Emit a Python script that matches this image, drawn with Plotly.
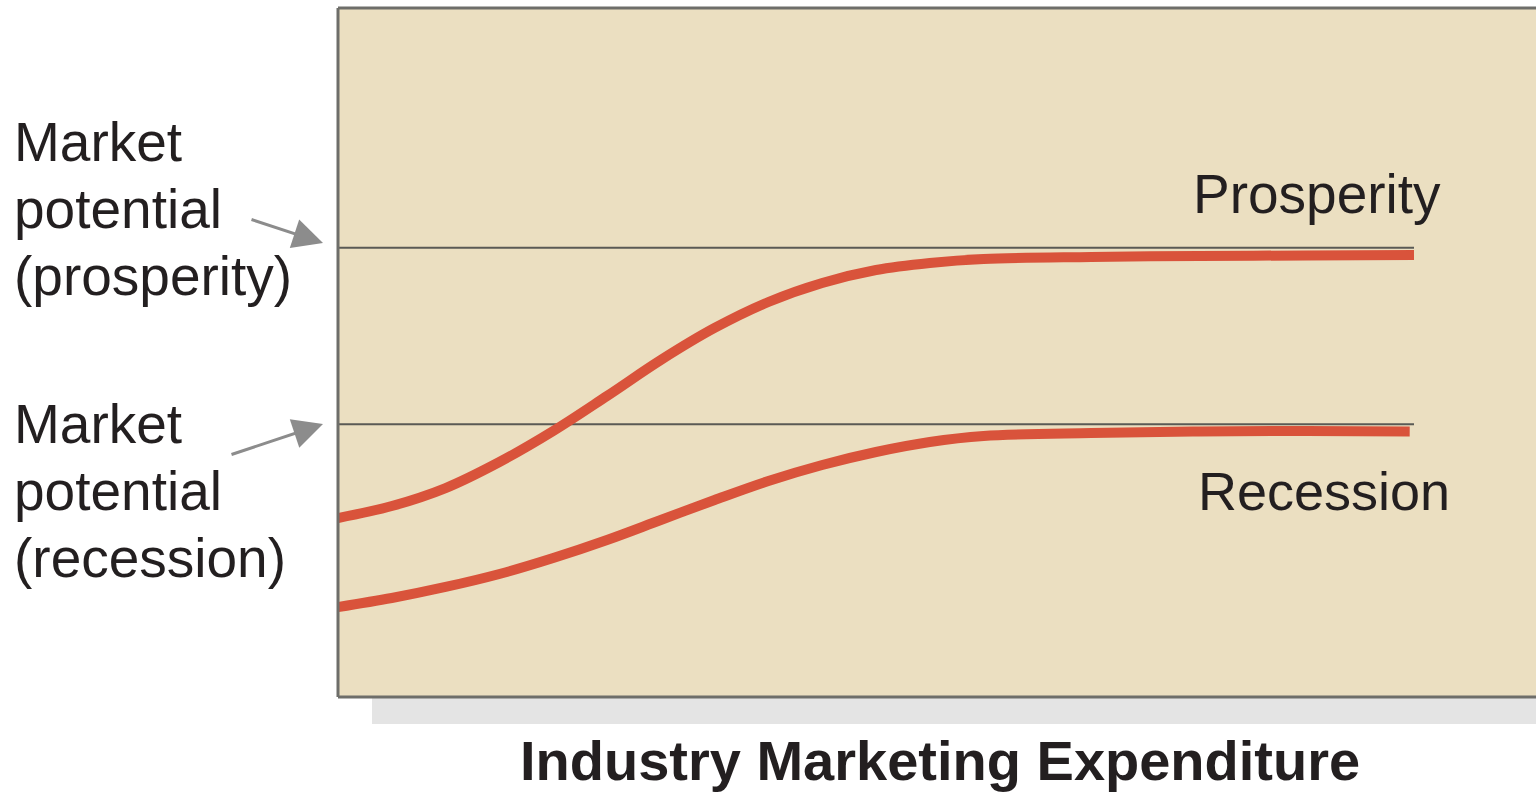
import plotly.graph_objects as go

# Industry marketing expenditure (relative units, 0-100 where curves end)
expenditure = [0, 5, 10, 15, 20, 25, 30, 35, 40, 45, 50, 55, 60, 70, 80, 90, 100]
# Market demand (relative units)
prosperity_demand = [25.98, 27.72, 30.33, 34.11, 38.61, 43.69, 48.91, 53.56, 57.33, 60.09,
                     61.97, 62.99, 63.57, 63.86, 64.01, 64.08, 64.15]
recession_demand = [13.06, 14.37, 15.97, 17.85, 20.17, 22.79, 25.69, 28.59, 31.35, 33.67,
                    35.56, 37.01, 37.88, 38.32, 38.53, 38.61, 38.53]
potential_levels = [65.2, 39.6]          # prosperity, recession
potential_x = [0, 100]

LINE_RED = "#d9533b"
FONT = "Liberation Sans, Arial, sans-serif"

fig = go.Figure()

for lvl in potential_levels:
    fig.add_trace(go.Scatter(x=potential_x, y=[lvl, lvl], mode="lines",
                             line=dict(color="#5a5a55", width=2),
                             hoverinfo="skip", showlegend=False))

fig.add_trace(go.Scatter(x=expenditure, y=prosperity_demand, mode="lines",
                         line=dict(color=LINE_RED, width=10, shape="spline", smoothing=1.0),
                         name="Prosperity", showlegend=False))
fig.add_trace(go.Scatter(x=expenditure[:-1] + [99.6], y=recession_demand, mode="lines",
                         line=dict(color=LINE_RED, width=10, shape="spline", smoothing=1.0),
                         name="Recession", showlegend=False))

W, H = 1536, 793
L, R, T, B = 338, 0, 8, 96
pw, ph = W - L - R, H - T - B

def px(x):
    return (x - L) / pw

def py(y):
    return (H - B - y) / ph

ann = []
left_lines = [("Market", 142), ("potential", 209), ("(prosperity)", 276),
              ("Market", 424), ("potential", 491), ("(recession)", 558)]
for txt, yc in left_lines:
    ann.append(dict(text=txt, xref="paper", yref="paper", x=px(12), y=py(yc),
                    xanchor="left", yanchor="middle", showarrow=False,
                    font=dict(family=FONT, size=55, color="#231f20")))

ann.append(dict(text="Prosperity", xref="paper", yref="paper", x=px(1191), y=py(194),
                xanchor="left", yanchor="middle", showarrow=False,
                font=dict(family=FONT, size=55, color="#231f20")))
ann.append(dict(text="Recession", xref="paper", yref="paper", x=px(1196), y=py(491),
                xanchor="left", yanchor="middle", showarrow=False,
                font=dict(family=FONT, size=54, color="#231f20")))
ann.append(dict(text="<b>Industry Marketing Expenditure</b>", xref="paper", yref="paper",
                x=px(940), y=py(760), xanchor="center", yanchor="middle", showarrow=False,
                font=dict(family=FONT, size=56, color="#231f20")))

# arrows
ann.append(dict(text="", xref="paper", yref="paper", x=px(323), y=py(243),
                ax=250 - 323, ay=219 - 243, axref="pixel", ayref="pixel",
                showarrow=True, arrowhead=2, arrowsize=2, arrowwidth=3,
                arrowcolor="#8c8c8c"))
ann.append(dict(text="", xref="paper", yref="paper", x=px(323), y=py(424),
                ax=230 - 323, ay=455 - 424, axref="pixel", ayref="pixel",
                showarrow=True, arrowhead=2, arrowsize=2, arrowwidth=3,
                arrowcolor="#8c8c8c"))

shapes = [
    dict(type="rect", xref="paper", yref="paper", x0=px(372), x1=1, y0=py(724), y1=py(698),
         fillcolor="#e4e4e4", line=dict(width=0), layer="below"),
    dict(type="line", xref="paper", yref="paper", x0=0, x1=0, y0=0, y1=1,
         line=dict(color="#6e6e6a", width=3)),
    dict(type="line", xref="paper", yref="paper", x0=0, x1=1, y0=1, y1=1,
         line=dict(color="#6e6e6a", width=3)),
    dict(type="line", xref="paper", yref="paper", x0=0, x1=1, y0=0, y1=0,
         line=dict(color="#6e6e6a", width=3)),
]

fig.update_layout(
    width=W, height=H,
    margin=dict(l=L, r=R, t=T, b=B),
    paper_bgcolor="white", plot_bgcolor="#ebdfc1",
    xaxis=dict(range=[0, 100 * pw / (1414 - L)], showgrid=False, zeroline=False,
               showticklabels=False, ticks="", fixedrange=True),
    yaxis=dict(range=[0, 100], showgrid=False, zeroline=False,
               showticklabels=False, ticks="", fixedrange=True),
    annotations=ann, shapes=shapes, showlegend=False,
)

fig.write_html("out.html", config={"displayModeBar": False})
